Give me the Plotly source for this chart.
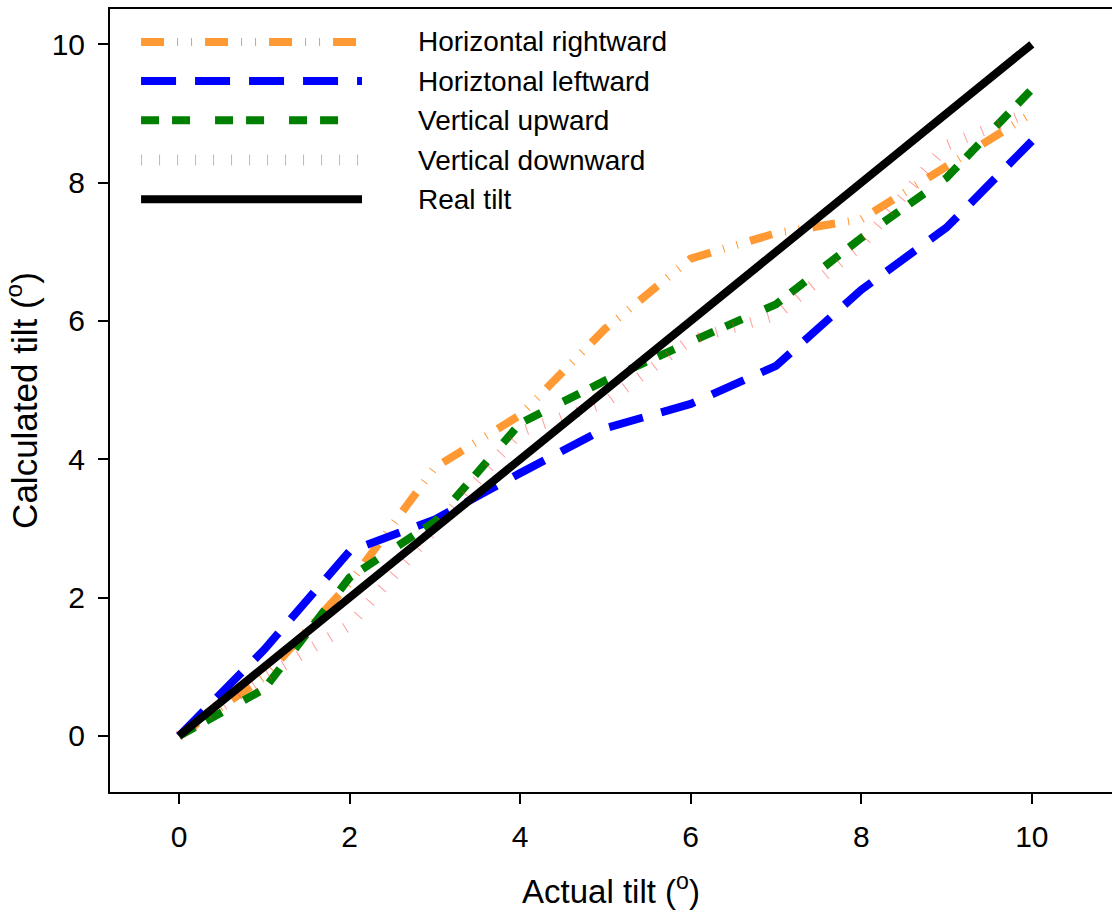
import plotly.graph_objects as go

# ---- data ----
actual_tilt = [0, 1, 2, 3, 4, 5, 6, 7, 8, 9, 10]
horizontal_rightward = [0, 0.85, 2.21, 3.88, 4.64, 5.89, 6.9, 7.27, 7.47, 8.23, 9.0]
horizontal_leftward = [0, 1.25, 2.67, 3.13, 3.8, 4.45, 4.8, 5.35, 6.45, 7.35, 8.6]
vertical_upward = [0, 0.68, 2.29, 3.1, 4.52, 5.14, 5.7, 6.24, 7.2, 8.07, 9.35]
vertical_downward = [0, 0.85, 1.6, 2.98, 4.4, 4.82, 5.73, 6.08, 7.1, 8.54, 9.03]
real_tilt = [0, 1, 2, 3, 4, 5, 6, 7, 8, 9, 10]

series_names = ["Horizontal rightward", "Horiztonal leftward", "Vertical upward",
                "Vertical downward", "Real tilt"]
series_values = [horizontal_rightward, horizontal_leftward, vertical_upward,
                 vertical_downward, real_tilt]
tick_vals = [0, 2, 4, 6, 8, 10]

# ---- styles ----
styles = [
    dict(color="#ff9933", width=8, dash="23px,13px,1px,13px,1px,13px"),
    dict(color="#0000ff", width=8, dash="35px,19px"),
    dict(color="#008000", width=8, dash="18px,13px,18px,25px"),
    dict(color="rgba(255,60,60,0.5)", width=11, dash="1px,17px"),
    dict(color="#000000", width=8, dash="solid"),
]

FONT = "Liberation Sans, Arial, sans-serif"

fig = go.Figure()
for name, vals, st in zip(series_names, series_values, styles):
    fig.add_trace(go.Scatter(x=actual_tilt, y=vals, mode="lines", name=name,
                             line=st, showlegend=False))

# ---- custom legend (long line samples) ----
row_y = [0.958, 0.908, 0.858, 0.807, 0.757]
for name, st, yy in zip(series_names, styles, row_y):
    fig.add_shape(type="line", xref="paper", yref="paper",
                  x0=0.031, x1=0.2515, y0=yy, y1=yy,
                  line=dict(color=st["color"], width=st["width"], dash=st["dash"]))
    fig.add_annotation(xref="paper", yref="paper", x=0.305, y=yy,
                       xanchor="left", yanchor="middle", text=name,
                       showarrow=False, font=dict(family=FONT, size=28, color="black"))

fig.update_layout(
    width=1112, height=918,
    margin=dict(l=110, r=0, t=9, b=126),
    paper_bgcolor="white", plot_bgcolor="white",
    font=dict(family=FONT, size=28, color="black"),
    showlegend=False,
)
fig.update_xaxes(
    range=[-0.809, 10.94], tickvals=tick_vals, ticks="outside", ticklen=10, tickwidth=2,
    tickcolor="black", showline=True, linecolor="black", linewidth=2, mirror=True,
    showgrid=False, zeroline=False, tickfont=dict(size=30), ticklabelstandoff=7,
    title=dict(text="Actual tilt (<sup>o</sup>)", font=dict(size=33), standoff=28),
)
fig.update_yaxes(
    range=[-0.81, 10.51], tickvals=tick_vals, ticks="outside", ticklen=10, tickwidth=2,
    tickcolor="black", showline=True, linecolor="black", linewidth=2, mirror=False,
    showgrid=False, zeroline=False, tickfont=dict(size=30), ticklabelstandoff=7,
    title=dict(text="Calculated tilt (<sup>o</sup>)", font=dict(size=35), standoff=16),
)

fig.write_html("out.html")
